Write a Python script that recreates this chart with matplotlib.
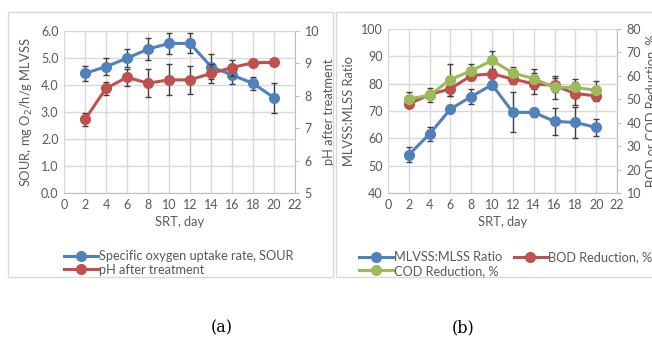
import matplotlib as mpl
mpl.use('Agg')
import matplotlib.pyplot as plt
from matplotlib.lines import Line2D
from matplotlib.patches import Rectangle

plt.rcParams['font.family'] = ['Lato', 'DejaVu Sans']

srt = [2, 4, 6, 8, 10, 12, 14, 16, 18, 20]

# (a)
sour = [4.43, 4.68, 4.99, 5.33, 5.54, 5.54, 4.68, 4.37, 4.06, 3.53]
sour_err = [0.29, 0.31, 0.33, 0.42, 0.38, 0.37, 0.45, 0.33, 0.25, 0.55]
ph = [7.27, 8.23, 8.57, 8.39, 8.49, 8.49, 8.69, 8.87, 9.02, 9.03]
ph_err = [0.20, 0.21, 0.27, 0.43, 0.48, 0.43, 0.28, 0.25, 0.05, 0.05]

# (b)
ratio = [54.0, 61.6, 70.7, 75.3, 79.6, 69.5, 69.5, 66.2, 65.8, 64.0]
ratio_err = [2.7, 2.4, 1.5, 2.9, 1.5, 7.3, 1.7, 4.8, 5.8, 3.1]
bod = [48.0, 52.0, 54.5, 60.1, 60.9, 58.6, 56.6, 55.9, 52.4, 51.5]
bod_err = [1.5, 1.5, 3.0, 2.0, 2.0, 2.0, 4.5, 3.0, 4.8, 2.4]
cod = [50.1, 51.8, 58.4, 62.2, 66.6, 61.2, 58.8, 55.1, 55.1, 53.8]
cod_err = [3.0, 3.0, 6.8, 3.0, 3.8, 2.5, 4.2, 5.0, 3.7, 4.0]

blue = '#4F81BD'
red = '#C0504D'
green = '#9BBB59'
txt = '#595959'
grid = '#d9d9d9'
fs = 9

W, H = 652, 340
fig = plt.figure(figsize=(W / 100, H / 100), dpi=100, facecolor='w')

# chart frames
fig.patches.append(Rectangle((8 / W, 1 - 277 / H), 325 / W, 265 / H, transform=fig.transFigure,
                             fill=False, edgecolor=grid, lw=1))
fig.patches.append(Rectangle((336 / W, 1 - 277 / H), 330 / W, 265 / H, transform=fig.transFigure,
                             fill=False, edgecolor=grid, lw=1))


def style(ax, ax2):
    ax.set_xlim(0, 22)
    ax.set_xticks(range(0, 23, 2))
    ax.grid(True, color=grid, lw=1)
    ax.set_axisbelow(True)
    for s in ['top', 'left', 'right']:
        ax.spines[s].set_visible(False)
    ax.spines['bottom'].set_color('#bfbfbf')
    ax.tick_params(length=0, labelsize=fs, colors=txt, pad=4)
    for s in ['top', 'left', 'bottom']:
        ax2.spines[s].set_visible(False)
    ax2.spines['right'].set_color('#bfbfbf')
    ax2.tick_params(axis='y', length=3, color='#bfbfbf', labelsize=fs, labelcolor=txt, pad=4)
    ax.set_xlabel('SRT, day', fontsize=fs + 0.3, color=txt, labelpad=4)


def series(ax, y, e, c):
    ax.errorbar(srt, y, yerr=e, color=c, lw=2.2, marker='o', ms=7,
                ecolor='#404040', elinewidth=1, capsize=2.5, capthick=1, zorder=3)


# panel (a)
ax1 = fig.add_axes([64 / W, 1 - 193 / H, 231 / W, 162 / H])
ax1b = ax1.twinx()
style(ax1, ax1b)
ax1.set_ylim(0, 6)
ax1.set_yticks([0, 1, 2, 3, 4, 5, 6])
ax1.set_yticklabels(['%.1f' % v for v in range(7)])
ax1b.set_ylim(5, 10)
ax1b.set_yticks([5, 6, 7, 8, 9, 10])
series(ax1, sour, sour_err, blue)
series(ax1b, ph, ph_err, red)
ax1.set_ylabel('SOUR, mg O$_2$/h/g MLVSS', fontsize=fs + 0.3, color=txt, labelpad=4)
ax1b.set_ylabel('pH after treatment', fontsize=fs + 0.3, color=txt, labelpad=3)

h_sour = Line2D([], [], color=blue, lw=2.2, marker='o', ms=7)
h_ph = Line2D([], [], color=red, lw=2.2, marker='o', ms=7)
fig.legend([h_sour, h_ph], ['Specific oxygen uptake rate, SOUR', 'pH after treatment'],
           loc='upper left', bbox_to_anchor=(58 / W, 1 - 244 / H), frameon=False,
           fontsize=9.2, labelcolor=txt, handlelength=2.6, handletextpad=0.1,
           labelspacing=0.1, borderpad=0)

# panel (b)
ax2 = fig.add_axes([388 / W, 1 - 193 / H, 229 / W, 164 / H])
ax2b = ax2.twinx()
style(ax2, ax2b)
ax2.set_ylim(40, 100)
ax2.set_yticks(range(40, 101, 10))
ax2b.set_ylim(10, 80)
ax2b.set_yticks(range(10, 81, 10))
series(ax2, ratio, ratio_err, blue)
series(ax2b, bod, bod_err, red)
series(ax2b, cod, cod_err, green)
ax2.set_ylabel('MLVSS:MLSS Ratio', fontsize=fs + 0.3, color=txt, labelpad=4)
ax2b.set_ylabel('BOD or COD Reduction, %', fontsize=fs + 0.3, color=txt, labelpad=3)

h_r = Line2D([], [], color=blue, lw=2.2, marker='o', ms=7)
h_b = Line2D([], [], color=red, lw=2.2, marker='o', ms=7)
h_c = Line2D([], [], color=green, lw=2.2, marker='o', ms=7)
fig.legend([h_r, h_c, h_b], ['MLVSS:MLSS Ratio', 'COD Reduction, %', 'BOD Reduction, %'],
           loc='upper left', bbox_to_anchor=(353 / W, 1 - 245 / H), ncol=2, frameon=False,
           fontsize=9.2, labelcolor=txt, handlelength=2.6, handletextpad=0.1,
           labelspacing=0.1, columnspacing=0.9, borderpad=0)

fig.text(222 / W, 1 - 328 / H, '(a)', fontsize=11.5, family='DejaVu Serif', ha='center', va='center')
fig.text(463 / W, 1 - 328 / H, '(b)', fontsize=11.5, family='DejaVu Serif', ha='center', va='center')

fig.savefig('out.png', dpi=100)
